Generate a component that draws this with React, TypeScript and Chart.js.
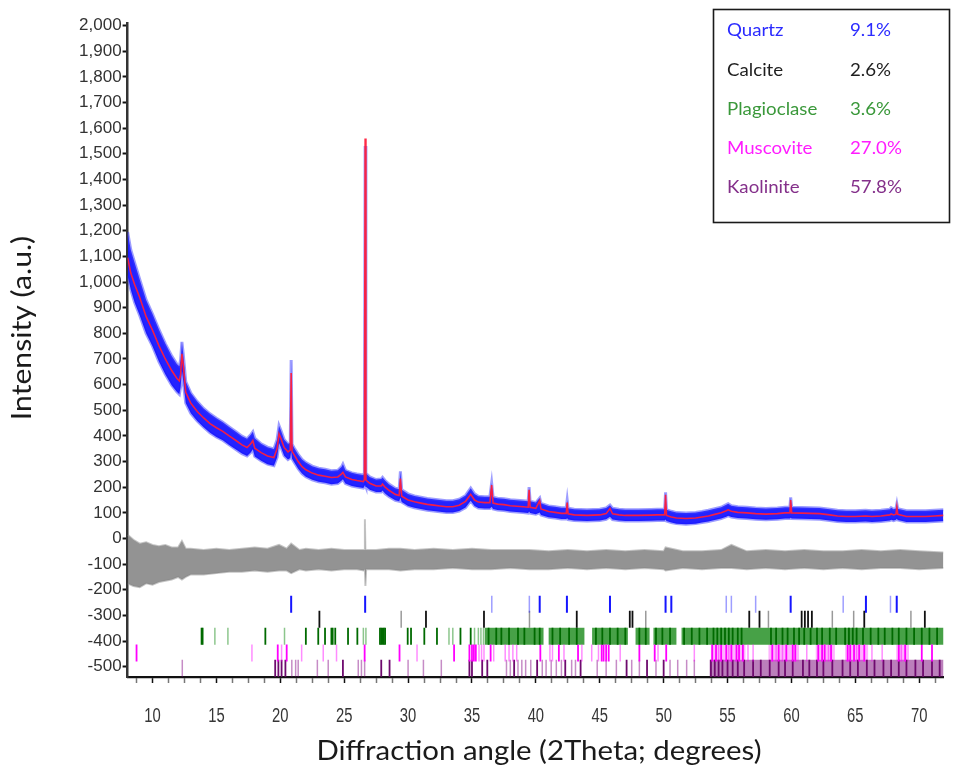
import { useEffect, useRef } from "react";
import { Chart, registerables } from "chart.js";

Chart.register(...registerables);

// 2θ positions (degrees) shared by the fitted profile and the observed band
const angles = [
  8.05, 8.3, 8.6, 9.0, 9.5, 10.0, 10.5, 11.0, 11.5, 11.9, 12.1, 12.2, 12.3, 12.4, 12.6, 13.0, 13.5, 14.0, 14.5,
  15.0, 15.5, 16.0, 16.5, 17.0, 17.4, 17.7, 17.85, 18.0, 18.5, 19.0, 19.5, 19.75, 19.9, 20.05, 20.3, 20.6,
  20.78, 20.85, 20.92, 21.1, 21.4, 21.7, 22.0, 22.5, 23.0, 23.5, 24.0, 24.5, 24.8, 24.9, 25.1, 25.6, 26.0,
  26.5, 26.58, 26.64, 26.7, 27.0, 27.5, 27.9, 28.0, 28.2, 28.5, 29.0, 29.3, 29.4, 29.5, 30.0, 30.5, 31.0,
  31.5, 32.0, 32.5, 33.0, 33.5, 34.0, 34.5, 34.9, 35.2, 35.5, 36.0, 36.4, 36.54, 36.65, 37.0, 37.5, 38.0,
  38.5, 39.0, 39.4, 39.47, 39.55, 40.0, 40.3, 40.4, 41.0, 41.5, 42.0, 42.38, 42.45, 42.52, 43.0, 44.0, 45.0,
  45.5, 45.8, 46.0, 46.5, 47.0, 48.0, 49.0, 49.5, 50.08, 50.15, 50.22, 50.6, 51.0, 51.75, 52.5, 53.0, 53.5,
  54.0, 54.5, 54.9, 55.05, 55.3, 55.8, 56.5, 57.2, 58.0, 58.9, 59.5, 59.88, 59.94, 60.02, 60.8, 61.5, 62.2,
  63.0, 63.6, 64.3, 65.0, 65.8, 66.3, 67.0, 67.7, 67.8, 68.0, 68.18, 68.25, 68.32, 69.0, 70.0, 70.5, 71.2, 71.9,
];

// Calculated (Rietveld fit) intensity
const calculated = [
  1095, 1035, 990, 940, 865, 812, 752, 700, 655, 625, 615, 640, 720, 680, 570, 527, 495, 470, 448,
  432, 418, 400, 383, 365, 355, 370, 382, 352, 335, 322, 316, 350, 408, 390, 355, 338,
  345, 645, 340, 325, 300, 280, 268, 255, 247, 243, 238, 240, 252, 258, 240, 230, 226,
  222, 230, 1560, 228, 215, 205, 205, 212, 200, 188, 172, 168, 234, 165, 150, 143, 138,
  133, 130, 127, 124, 124, 130, 145, 172, 150, 142, 140, 140, 208, 138, 134, 132, 128,
  126, 124, 122, 190, 122, 118, 148, 115, 105, 102, 98, 98, 140, 96, 92, 90, 92,
  97, 117, 96, 92, 90, 90, 91, 92, 92, 170, 90, 84, 80, 78, 80, 84, 88,
  94, 100, 108, 112, 106, 102, 100, 97, 95, 97, 100, 100, 150, 100, 99, 98, 97,
  92, 88, 86, 86, 88, 86, 88, 92, 96, 92, 95, 124, 94, 86, 86, 86, 88, 90,
];

// Observed counts: upper and lower edge of the noisy trace
const observedHigh = [
  1195, 1125, 1075, 1010, 930, 875, 815, 760, 712, 680, 672, 698, 767, 722, 612, 567, 534, 507, 486,
  469, 453, 435, 417, 399, 389, 406, 416, 391, 369, 356, 349, 386, 440, 421, 386, 369,
  372, 696, 368, 352, 328, 308, 296, 282, 274, 270, 264, 266, 280, 290, 266, 256, 252,
  248, 256, 1530, 254, 240, 230, 232, 238, 226, 212, 196, 192, 262, 190, 174, 166, 161,
  156, 153, 150, 147, 147, 153, 168, 196, 174, 165, 163, 163, 216, 161, 157, 155, 151,
  149, 147, 145, 200, 145, 140, 158, 137, 127, 124, 120, 120, 150, 118, 114, 112, 114,
  119, 130, 118, 114, 112, 112, 113, 114, 114, 180, 112, 106, 101, 99, 101, 105, 110,
  116, 122, 132, 136, 128, 124, 122, 119, 117, 119, 122, 122, 160, 122, 121, 120, 119,
  114, 110, 108, 108, 110, 108, 110, 114, 120, 114, 117, 135, 116, 108, 108, 108, 110, 112,
];

const observedLow = [
  1025, 970, 920, 870, 800, 750, 690, 640, 598, 572, 562, 592, 655, 615, 528, 488, 458, 434, 412,
  396, 383, 365, 348, 331, 322, 336, 348, 320, 303, 290, 284, 316, 372, 356, 323, 308,
  314, 340, 311, 296, 272, 253, 241, 229, 221, 217, 212, 214, 226, 231, 214, 205, 201,
  197, 204, 210, 202, 190, 181, 181, 187, 175, 164, 149, 145, 159, 142, 127, 120, 115,
  110, 107, 104, 101, 101, 107, 121, 147, 127, 119, 117, 117, 124, 115, 111, 109, 105,
  103, 101, 99, 105, 99, 95, 101, 92, 83, 80, 76, 76, 79, 74, 70, 68, 70,
  75, 85, 74, 70, 68, 68, 69, 70, 70, 74, 68, 62, 58, 56, 58, 62, 66,
  72, 78, 85, 89, 84, 80, 78, 75, 73, 75, 78, 78, 81, 78, 77, 76, 75,
  70, 66, 64, 64, 66, 64, 66, 70, 73, 70, 73, 77, 72, 64, 64, 64, 66, 68,
];

// Difference curve (observed − calculated), drawn as its noise envelope
const diffAngles = [
  8.05, 8.5, 9.0, 9.5, 10.0, 10.5, 11.0, 11.5, 12.0, 12.3, 12.6, 13.0, 14.0, 15.0, 16.0, 17.0, 18.0, 19.0,
  19.9, 20.5, 20.85, 21.5, 22.0, 23.0, 24.0, 25.0, 26.0, 26.55, 26.62, 26.66, 26.72, 27.5, 28.5, 29.4,
  30.5, 32.0, 33.5, 35.0, 36.5, 38.0, 39.5, 41.0, 42.5, 44.0, 45.5, 47.0, 48.5, 50.0, 50.15, 51.5, 53.0,
  54.5, 55.3, 56.5, 58.0, 59.5, 61.0, 62.5, 64.0, 65.5, 67.0, 68.5, 70.0, 71.9,
];

const diffHigh = [
  15, -5, -20, -15, -25, -30, -25, -35, -35, -10, -40, -40, -45, -40, -45, -40, -35, -40,
  -25, -40, -20, -45, -40, -45, -40, -45, -45, -45, 75, -45, -45, -45, -40, -40,
  -45, -40, -45, -40, -45, -45, -45, -50, -45, -50, -45, -50, -45, -50, -35, -50, -50,
  -45, -25, -50, -45, -50, -45, -50, -50, -45, -50, -45, -50, -55,
];

const diffLow = [
  -175, -185, -190, -175, -180, -170, -165, -160, -150, -160, -150, -140, -140, -135, -130, -130, -125, -130,
  -125, -125, -135, -120, -125, -120, -125, -120, -120, -125, -120, -185, -120, -120, -120, -125,
  -120, -120, -115, -120, -120, -115, -120, -120, -115, -120, -115, -120, -115, -120, -125, -115, -120,
  -115, -115, -120, -115, -120, -115, -120, -115, -120, -115, -115, -120, -115,
];

// Reflection positions (2θ) per phase: strong and weak lines
const quartzStrong = [20.85, 26.64, 40.3, 42.43, 45.8, 50.15, 50.6, 59.94, 65.83, 68.24];
const quartzWeak = [36.55, 39.49, 54.9, 55.3, 57.2, 64.05, 67.75];

const calciteStrong = [23.06, 31.4, 35.94, 43.2, 47.35, 47.56, 56.7, 57.5, 60.8, 61.05, 61.3, 61.6, 65.7, 70.44];
const calciteWeak = [29.46, 39.5, 48.6, 58.2, 63.2, 64.87, 69.35];

const plagioclaseStrong = [
  13.84, 13.92, 18.83, 22.0, 22.97, 23.5, 24.0, 24.1, 24.3, 25.3, 26.03, 27.8, 27.9, 28.0, 28.1, 28.2,
  29.97, 30.23, 31.27, 32.26, 34.1, 34.9, 36.3, 36.9, 37.3, 37.9, 38.6, 39.1, 39.9, 40.3, 41.3, 41.9,
  42.6, 43.2, 44.7, 45.2, 45.8, 46.4, 47.0, 48.1, 48.6, 49.4, 49.9, 50.5, 51.6, 52.2, 52.8, 53.4, 53.9,
  54.2, 54.5, 54.8, 55.1, 55.4, 55.8, 56.1, 58.4, 58.8, 59.3, 59.7, 60.2, 60.6, 61.0, 61.5, 62.0, 62.4,
  63.0, 63.5, 64.2, 64.5, 64.8, 65.1, 65.6, 66.2, 66.8, 67.3, 67.9, 68.4, 69.0, 69.6, 70.2, 70.8, 71.4,
];
const plagioclaseWeak = [14.88, 15.9, 20.33, 26.5, 26.7, 33.2, 33.5, 35.2, 35.5, 35.7, 35.9];
const plagioclaseBlocks = [[36.0, 40.6], [41.0, 43.8], [44.4, 47.2], [47.8, 48.9], [49.2, 51.0], [51.4, 71.9]];

const muscoviteStrong = [
  8.75, 19.8, 20.5, 26.6, 29.33, 33.6, 34.8, 35.0, 35.15, 35.3, 36.46, 40.35, 41.8, 43.3, 45.15, 45.3,
  45.5, 45.7, 48.1, 49.3, 50.2, 53.8, 54.1, 54.5, 54.9, 55.3, 55.7, 55.9, 56.2, 58.5, 59.0, 59.6, 60.1,
  60.3, 62.1, 62.4, 62.6, 63.1, 64.4, 64.6, 64.9, 65.3, 65.7, 68.4, 68.9, 70.2, 71.0,
];
const muscoviteWeak = [
  17.78, 20.1, 21.67, 23.36, 24.4, 30.7, 35.55, 35.75, 35.94, 36.7, 37.6, 37.9, 38.2, 38.5, 41.1, 41.3,
  42.2, 43.6, 44.37, 44.9, 46.6, 49.56, 52.4, 54.3, 55.1, 56.6, 57.0, 58.8, 59.3, 61.2, 62.9, 65.1,
  66.3, 67.1, 68.6,
];
const muscoviteBlocks = [[53.7, 56.4], [58.2, 60.6], [61.9, 63.4], [64.2, 66.0], [68.2, 69.2]];

const kaoliniteStrong = [
  19.6, 19.85, 20.1, 20.4, 24.9, 27.9, 28.55, 34.8, 35.0, 35.8, 36.2, 38.3, 40.1, 42.3, 43.5, 47.1,
  48.7, 50.0, 53.7, 54.0, 54.3, 54.6, 55.0, 55.4, 55.8, 56.3, 57.0, 57.6, 58.3, 59.0, 59.5, 60.1, 60.9,
  61.4, 62.0, 62.5, 63.2, 64.0, 64.6, 65.2, 65.9, 66.5, 67.2, 67.8, 68.4, 69.0, 69.7, 70.3, 71.0, 71.6,
];
const kaoliniteWeak = [
  12.33, 20.9, 21.2, 21.4, 22.9, 23.75, 26.1, 26.35, 26.6, 30.0, 31.2, 32.6, 37.7, 38.0, 38.6, 38.9,
  39.2, 39.6, 40.5, 40.8, 41.2, 41.6, 42.0, 42.8, 43.1, 44.8, 45.5, 46.3, 47.5, 48.1, 49.4, 50.5, 51.1,
  51.8, 52.4,
];
const kaoliniteBlocks = [[53.6, 71.9]];

// Phase table
const phaseNames = ["Quartz", "Calcite", "Plagioclase", "Muscovite", "Kaolinite"];
const phaseFractions = ["9.1%", "2.6%", "3.6%", "27.0%", "57.8%"];

// Axis ticks
const yTickValues = [-500, -400, -300, -200, -100, 0, 100, 200, 300, 400, 500, 600, 700, 800, 900, 1000,
  1100, 1200, 1300, 1400, 1500, 1600, 1700, 1800, 1900, 2000];
const xTickLabels = [10, 15, 20, 25, 30, 35, 40, 45, 50, 55, 60, 65, 70];

// Intensity level at which each phase's reflection row sits
const ROW = { quartz: -256, calcite: -315, plagioclase: -381, muscovite: -446, kaolinite: -506 };
const phaseTextColors = ["#2b2bff", "#1e1e1e", "#3a983a", "#ff1cff", "#84308a"];

const pts = (xs: number[], ys: number[]) => xs.map((x, i) => ({ x, y: ys[i] }));
const row = (xs: number[], level: number) => xs.map((x) => ({ x, y: level }));
const blocks = (bs: number[][], level: number) =>
  bs.flatMap(([a, b]) => [{ x: a, y: level }, { x: b, y: level }, { x: b + 0.01, y: null as any }]);

const tickSet = (data: any[], color: string, width: number) => ({
  data,
  showLine: false,
  pointStyle: "line",
  pointRotation: 90,
  pointRadius: 8.5,
  pointBorderColor: color,
  pointBorderWidth: width,
  pointBackgroundColor: color,
  order: 10,
});

const blockSet = (data: any[], color: string) => ({
  data,
  showLine: true,
  spanGaps: false,
  pointRadius: 0,
  borderColor: color,
  borderWidth: 17,
  borderCapStyle: "butt",
  order: 12,
});

const sansText = '"Lato", "Open Sans", sans-serif';

// draws text stretched horizontally by sx around its anchor
const stretchedText = (ctx: any, text: string, x: number, y: number, sx: number) => {
  ctx.save();
  ctx.translate(x, y);
  ctx.scale(sx, 1);
  ctx.fillText(text, 0, 0);
  ctx.restore();
};

const decorations = {
  id: "decorations",
  afterDraw(chart: any) {
    const { ctx } = chart;
    const xScale = chart.scales.x;
    ctx.save();

    // x tick labels in a condensed face
    ctx.fillStyle = "#363636";
    ctx.font = '20px "Liberation Sans", Arial, sans-serif';
    ctx.textAlign = "center";
    ctx.textBaseline = "middle";
    xTickLabels.forEach((v) => stretchedText(ctx, String(v), xScale.getPixelForValue(v), 716, 0.74));

    // phase table
    ctx.strokeStyle = "#1a1a1a";
    ctx.lineWidth = 1.6;
    ctx.strokeRect(713.5, 9.5, 236, 213);
    ctx.font = `17px ${sansText}`;
    ctx.textAlign = "left";
    phaseNames.forEach((name, i) => {
      const y = 31 + i * 39.2;
      ctx.fillStyle = phaseTextColors[i];
      stretchedText(ctx, name, 727, y, 1.1);
      stretchedText(ctx, phaseFractions[i], 850, y, 1.1);
    });

    // axis titles
    ctx.fillStyle = "#1a1a1a";
    ctx.font = `26px ${sansText}`;
    ctx.textAlign = "center";
    stretchedText(ctx, "Diffraction angle (2Theta; degrees)", 539, 752, 1.13);
    ctx.translate(23, 328);
    ctx.rotate(-Math.PI / 2);
    stretchedText(ctx, "Intensity (a.u.)", 0, 0, 1.16);
    ctx.restore();
  },
};

export default function App() {
  const canvasRef = useRef<HTMLCanvasElement | null>(null);

  useEffect(() => {
    const canvas = canvasRef.current;
    if (!canvas) return;

    const xTicks: number[] = [];
    for (let v = 8.75; v <= 71.9; v += 1.25) xTicks.push(Math.round(v * 100) / 100);

    const chart = new Chart(canvas, {
      type: "scatter",
      data: {
        datasets: [
          {
            data: pts(angles, calculated),
            showLine: true,
            borderColor: "rgba(255,30,60,0.95)",
            borderWidth: 1.6,
            pointRadius: 0,
            tension: 0,
            order: 0,
          },
          {
            data: pts(angles, observedHigh),
            showLine: true,
            borderColor: "rgba(60,60,255,0.5)",
            borderWidth: 3,
            backgroundColor: "rgba(18,18,255,0.93)",
            fill: "+1",
            pointRadius: 0,
            tension: 0,
            order: 1,
          },
          {
            data: pts(angles, observedLow),
            showLine: true,
            borderColor: "rgba(60,60,255,0.5)",
            borderWidth: 3,
            pointRadius: 0,
            tension: 0,
            order: 2,
          },
          {
            data: pts(diffAngles, diffHigh),
            showLine: true,
            borderColor: "rgba(150,150,150,0.55)",
            borderWidth: 2,
            backgroundColor: "rgba(135,135,135,0.9)",
            fill: "+1",
            pointRadius: 0,
            tension: 0,
            order: 3,
          },
          {
            data: pts(diffAngles, diffLow),
            showLine: true,
            borderColor: "rgba(150,150,150,0.55)",
            borderWidth: 2,
            pointRadius: 0,
            tension: 0,
            order: 4,
          },
          blockSet(blocks(plagioclaseBlocks, ROW.plagioclase), "rgba(0,125,0,0.72)"),
          blockSet(blocks(muscoviteBlocks, ROW.muscovite), "rgba(255,0,255,0.3)"),
          blockSet(blocks(kaoliniteBlocks, ROW.kaolinite), "rgba(120,0,120,0.5)"),
          tickSet(row(quartzStrong, ROW.quartz), "#1515ff", 2),
          tickSet(row(quartzWeak, ROW.quartz), "rgba(40,40,255,0.45)", 1.5),
          tickSet(row(calciteStrong, ROW.calcite), "#111111", 1.8),
          tickSet(row(calciteWeak, ROW.calcite), "rgba(0,0,0,0.4)", 1.5),
          tickSet(row(plagioclaseStrong, ROW.plagioclase), "#006a00", 1.8),
          tickSet(row(plagioclaseWeak, ROW.plagioclase), "rgba(0,128,0,0.45)", 1.5),
          tickSet(row(muscoviteStrong, ROW.muscovite), "#ff00ff", 1.8),
          tickSet(row(muscoviteWeak, ROW.muscovite), "rgba(255,0,255,0.45)", 1.5),
          tickSet(row(kaoliniteStrong, ROW.kaolinite), "#6e0a6e", 1.8),
          tickSet(row(kaoliniteWeak, ROW.kaolinite), "rgba(128,0,128,0.45)", 1.5),
        ] as any,
      },
      options: {
        animation: false,
        responsive: false,
        events: [],
        layout: { padding: { top: 23, right: 5, left: 0, bottom: 0 } },
        plugins: { legend: { display: false }, tooltip: { enabled: false } },
        scales: {
          x: {
            type: "linear",
            min: 8.05,
            max: 71.9,
            afterBuildTicks: (axis: any) => {
              axis.ticks = xTicks.map((value) => ({ value }));
            },
            afterFit: (axis: any) => {
              axis.height = 96;
            },
            ticks: { display: false, autoSkip: false, maxRotation: 0 },
            grid: {
              drawOnChartArea: false,
              drawTicks: true,
              tickLength: 6,
              tickWidth: 1.5,
              tickColor: (c: any) => (c.tick && xTickLabels.includes(c.tick.value) ? "#111" : "#777"),
            },
            border: { display: true, color: "#111", width: 2.2 },
          },
          y: {
            type: "linear",
            min: -540,
            max: 2010,
            afterBuildTicks: (axis: any) => {
              axis.ticks = yTickValues.map((value) => ({ value }));
            },
            afterFit: (axis: any) => {
              axis.width = 127.6;
            },
            ticks: {
              padding: 1,
              color: "#333333",
              font: { family: '"Liberation Sans", Arial, sans-serif', size: 17 },
              callback: (v: any) => Number(v).toLocaleString("en-US"),
            },
            grid: {
              drawOnChartArea: false,
              drawTicks: true,
              tickLength: 5,
              tickWidth: 2,
              tickColor: "#111",
            },
            border: { display: true, color: "#333", width: 2.5 },
          },
        },
      },
      plugins: [decorations],
    });

    return () => chart.destroy();
  }, []);

  return (
    <div style={{ position: "fixed", left: 0, top: 0, width: 954, height: 773, background: "#fff" }}>
      <canvas ref={canvasRef} width={954} height={773} />
    </div>
  );
}
